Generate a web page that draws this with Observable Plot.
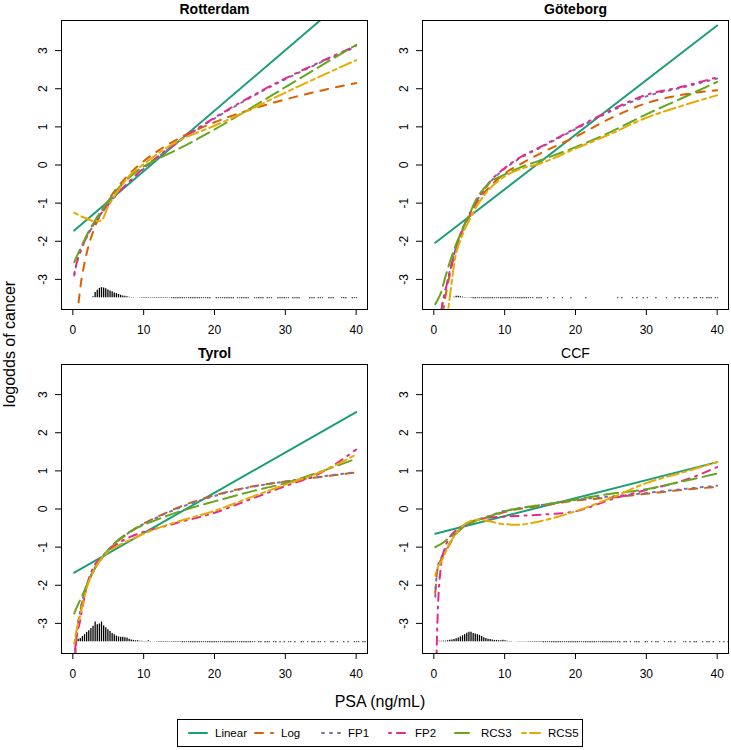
<!DOCTYPE html>
<html>
<head>
<meta charset="utf-8">
<script src="https://cdn.jsdelivr.net/npm/d3@7"></script>
<script src="https://cdn.jsdelivr.net/npm/@observablehq/plot@0.6"></script>
<style>
  html,body{margin:0;padding:0;background:#fff;}
  #root{position:relative;width:731px;height:750px;overflow:hidden;font-family:"Liberation Sans",Arial,sans-serif;color:#000;}
  .panel{position:absolute;}
  .panel svg{background:none !important;overflow:visible;}
  #ylab{position:absolute;left:-90.5px;top:333.5px;width:200px;height:20px;line-height:20px;font-size:16px;text-align:center;transform:rotate(-90deg);}
  #xlab{position:absolute;left:280px;top:691.7px;width:200px;height:20px;line-height:20px;font-size:16px;text-align:center;}
  #legend{position:absolute;left:177px;top:719px;width:406px;height:28px;border:1px solid #000;box-sizing:border-box;}
  .item{position:absolute;top:0;height:26px;display:flex;align-items:center;font-size:11.5px;white-space:nowrap;}
  .item svg{margin-right:7px;display:block;}
</style>
</head>
<body>
<div id="root">
  <div id="ylab">logodds of cancer</div>
  <div id="xlab">PSA (ng/mL)</div>
  <div id="legend"></div>
</div>
<script>
// ---------- data ----------
const psa = [0.2, 0.5, 1, 1.5, 2, 3, 4, 5, 6, 8, 10, 12, 15, 20, 25, 30, 35, 40];
const linearPsa = [0.2, 40];
const xTicks = [0, 10, 20, 30, 40];
const yTicks = [-3, -2, -1, 0, 1, 2, 3];
const models = ["Linear", "Log", "FP1", "FP2", "RCS3", "RCS5"];
const colors = ["#1B9E77", "#D95F02", "#7570B3", "#E7298A", "#66A61E", "#E6AB02"];
const dashes = ["none", "8,8", "2,6", "2,6,8,6", "14,6", "4,4,12,4"];
const panelTitles = ["Rotterdam", "Göteborg", "Tyrol", "CCF"];
const binWidth = 0.3;      // PSA width of each spike bin
const spikeBase = -3.5;    // logodds level the spikes stand on

// Rotterdam
const rotLinear = [-1.72, 4.6];
const rotLog  = [-5.7, -4.34, -3.31, -2.71, -2.28, -1.68, -1.26, -0.93, -0.66, -0.23, 0.10, 0.37, 0.70, 1.12, 1.45, 1.72, 1.95, 2.15];
const rotFP1  = [-2.9, -2.62, -2.3, -2.07, -1.88, -1.55, -1.28, -1.04, -0.82, -0.44, -0.1, 0.2, 0.62, 1.22, 1.76, 2.25, 2.69, 3.1];
const rotFP2  = [-2.86, -2.6, -2.3, -2.06, -1.87, -1.54, -1.27, -1.03, -0.81, -0.43, -0.08, 0.22, 0.63, 1.24, 1.78, 2.27, 2.71, 3.13];
const rotRCS3 = [-2.55, -2.42, -2.22, -2.02, -1.83, -1.5, -1.2, -0.94, -0.7, -0.32, -0.04, 0.16, 0.43, 0.93, 1.48, 2.04, 2.6, 3.15];
const rotRCS5 = [-1.25, -1.28, -1.33, -1.37, -1.41, -1.47, -1.46, -1.08, -0.78, -0.28, 0.02, 0.3, 0.64, 1.03, 1.45, 1.9, 2.33, 2.75];
const rotSpikes = [0,0,0,0,0,0,0,0,0,
  6,17,23,28,30,29,27,24,21,19,16,14,12,10,8,7,6,5,4,4,3,3,3,2,
  2,2,2,2,2,2,2,2,2,2,2,2,2,
  1,1,1,1,1,1,1,1,1,1,1,1,1,1,1,1,1,1,1,
  0,0, 1,1,1,1,1,1,1,1,1, 0, 1,1,1,1,1,1, 0,0, 1,1,1,1,1, 0, 1,1,1, 0,0,
  1,1,1,1,1,1, 0, 1,1,1,1, 0,0,0,0, 1,1,1, 0, 1,1,1, 0,0, 1,1,1, 0,0,0, 1,1,1, 0,0, 1,1,1];

// Göteborg
const gotLinear = [-2.04, 3.66];
const gotLog  = [-6.0, -5.0, -4.3, -3.6, -3.1, -2.3, -1.75, -1.35, -1.0, -0.55, -0.22, 0.0, 0.3, 0.74, 1.23, 1.62, 1.84, 1.96];
const gotFP1  = [-4.5, -4.2, -3.8, -3.38, -2.98, -2.24, -1.7, -1.31, -0.96, -0.44, -0.1, 0.16, 0.45, 0.94, 1.41, 1.8, 2.03, 2.27];
const gotFP2  = [-4.6, -4.3, -3.85, -3.4, -3.0, -2.25, -1.7, -1.3, -0.95, -0.42, -0.08, 0.18, 0.47, 0.96, 1.44, 1.84, 2.05, 2.3];
const gotRCS3 = [-3.65, -3.55, -3.35, -3.02, -2.7, -2.15, -1.7, -1.3, -0.9, -0.45, -0.25, -0.08, 0.12, 0.47, 0.87, 1.33, 1.75, 2.18];
const gotRCS5 = [-5.6, -5.3, -4.9, -4.3, -3.8, -2.45, -1.85, -1.45, -1.1, -0.6, -0.3, -0.12, 0.04, 0.43, 0.82, 1.24, 1.55, 1.83];
const gotSpikes = [0,0,0,0,0,0,0,0,0,
  5,7,7,6,5,4,3,3,2,
  1,1,1,1,1,1,1,1,1,1,1,1,1,1,1,1,1,1,1,1,1,1,1,1,1,1,1,1,
  1,0,1,1,1,0,0,1,0,0,1,0,0,0,1,0,0,0,1,
  0,0,0,0,0,0,1,0,0,0,0,0,0,0,0,0,0,0,0,0,0,
  1,0,1,0,0,0,0,1,0,1,0,0,1,0,1,0,0,0,1,0,0,0,0,1,0,0,0,1,0,1,0,1,0,1,0,0,1,1,0,1,1,0,1,1,1,0,1,1];

// Tyrol
const tyrLinear = [-1.67, 2.54];
const tyrLog  = [-4.3, -3.4, -2.75, -2.3, -2.0, -1.6, -1.3, -1.08, -0.9, -0.62, -0.38, -0.2, 0.05, 0.36, 0.58, 0.72, 0.84, 0.96];
const tyrFP1  = [-4.2, -3.35, -2.72, -2.28, -1.98, -1.58, -1.29, -1.07, -0.89, -0.61, -0.39, -0.21, 0.03, 0.34, 0.57, 0.72, 0.85, 0.97];
const tyrFP2  = [-3.9, -3.4, -2.95, -2.45, -2.0, -1.5, -1.28, -1.1, -0.95, -0.74, -0.6, -0.5, -0.35, -0.1, 0.25, 0.6, 0.95, 1.56];
const tyrRCS3 = [-2.74, -2.6, -2.4, -2.2, -1.98, -1.6, -1.32, -1.08, -0.88, -0.6, -0.42, -0.27, -0.07, 0.2, 0.45, 0.68, 0.98, 1.32];
const tyrRCS5 = [-3.53, -3.2, -2.82, -2.42, -2.05, -1.6, -1.3, -1.12, -1.0, -0.82, -0.65, -0.5, -0.32, -0.05, 0.3, 0.64, 0.97, 1.43];
const tyrSpikes = [0,4,10,12,17,22,28,32,38,44,55,48,50,55,45,40,35,30,25,22,18,16,15,15,14,13,10,8,7,6,6,5,5,4,4,6,4,3,3,3,
  2,2,2,2,2,2,2,2,2,2,2,
  1,1,1,1,1,1,1,1,1,1,1,1,1,1,1,1,1,1,1,1,1,1,1,1,1,1,1,1,1,1,1,1,1,1,1,
  0,1,1,0,1,1,1,0,1,1, 0,1,0,1,0,1,1,0,1,0, 0,1,1,0,1,0,1,1,0,1, 1,0,1,0,0,1,1,0,1,0, 0,1,0,1,0,0,1,1,1,0, 1,1,0];

// CCF
const ccfLinear = [-0.65, 1.23];
const ccfLog  = [-2.2, -1.6, -1.33, -1.15, -1.0, -0.68, -0.5, -0.38, -0.3, -0.2, -0.08, 0.0, 0.08, 0.22, 0.3, 0.4, 0.5, 0.58];
const ccfFP1  = [-2.3, -1.55, -1.3, -1.12, -0.97, -0.67, -0.5, -0.38, -0.3, -0.17, -0.05, 0.02, 0.1, 0.24, 0.33, 0.42, 0.52, 0.61];
const ccfFP2  = [-5.5, -3.0, -1.5, -1.05, -0.82, -0.58, -0.45, -0.35, -0.29, -0.22, -0.2, -0.18, -0.15, -0.06, 0.25, 0.5, 0.73, 1.1];
const ccfRCS3 = [-1.0, -0.97, -0.92, -0.86, -0.78, -0.65, -0.5, -0.38, -0.3, -0.18, -0.06, 0.02, 0.1, 0.25, 0.4, 0.52, 0.72, 0.93];
const ccfRCS5 = [-1.75, -1.55, -1.4, -1.2, -0.98, -0.68, -0.45, -0.33, -0.28, -0.33, -0.4, -0.41, -0.32, -0.06, 0.29, 0.68, 0.95, 1.23];
const ccfSpikes = [0,5,5,5,5,5,6,7,8,9,11,13,16,19,22,26,28,28,25,24,22,20,17,14,12,10,9,8,7,7,6,6,7,6,5,4,4,
  3,3,3,3,3,3,3, 2,2,2,2,2,2,2,
  1,1,1,1,1,1,1,1,1,1,1,1,1,1,1,1,1,1,1,1,1,1,1,1,1,1,1,1,1,1,1,1,1,1,1,
  1,1,0,1,1,0,1,0,1,1, 1,0,0,1,1,0,1,0,1,1, 0,0,1,0,1,1,0,1,0,0, 0,1,1,0,1,0,1,1,0,0, 1,0,1,1,0,1,0,0,1,0, 1,0,1];

// ---------- drawing ----------
const FONT = "'Liberation Sans', Arial, sans-serif";

function drawPanel(title, linear, curves, spikes, boldTitle) {
  const spikeData = spikes.map((h, i) => ({psa: binWidth * (i + 0.5), h: h / 100})).filter(d => d.h > 0);
  const series = [linearPsa.map((x, i) => ({psa: x, y: linear[i]}))]
    .concat(curves.map(c => psa.map((x, i) => ({psa: x, y: c[i]}))));
  const marks = [];
  marks.push(Plot.ruleX(spikeData, {
    x: "psa", y1: () => spikeBase, y2: d => spikeBase + d.h,
    stroke: "#000", strokeWidth: 1.3, insetTop: -0.6, insetBottom: -0.6, clip: true
  }));
  series.forEach((rows, k) => marks.push(Plot.line(rows, {
    x: "psa", y: "y", stroke: colors[k], strokeWidth: 2,
    strokeDasharray: dashes[k], curve: "monotone-x", clip: true
  })));
  marks.push(Plot.frame({stroke: "#000", strokeWidth: 1}));
  marks.push(Plot.axisX({ticks: xTicks, tickSize: 6, tickPadding: 10, fontSize: 12, label: null}));
  marks.push(Plot.axisY({ticks: yTicks, tickSize: 6, tickFormat: () => "", label: null}));
  marks.push(Plot.text(yTicks, {
    y: d => d, frameAnchor: "left", text: d => String(d), rotate: -90,
    dx: -15, lineAnchor: "bottom", textAnchor: "middle", fontSize: 12
  }));
  marks.push(Plot.text([title], {
    text: d => d, frameAnchor: "top", dy: -6.5, lineAnchor: "bottom",
    fontWeight: boldTitle ? "bold" : "normal", fontSize: 14
  }));
  return Plot.plot({
    width: 369, height: 341,
    marginLeft: 61, marginRight: 2, marginTop: 20, marginBottom: 32,
    x: {domain: [-1.6, 41.6]},
    y: {domain: [-3.79, 3.79]},
    style: {fontFamily: FONT, fontSize: "12px", background: "none", overflow: "visible", color: "#000"},
    marks
  });
}

const root = document.getElementById("root");
const layout = [
  {left: 0,   top: 0,   el: drawPanel(panelTitles[0], rotLinear, [rotLog, rotFP1, rotFP2, rotRCS3, rotRCS5], rotSpikes, true)},
  {left: 361, top: 0,   el: drawPanel(panelTitles[1], gotLinear, [gotLog, gotFP1, gotFP2, gotRCS3, gotRCS5], gotSpikes, true)},
  {left: 0,   top: 344, el: drawPanel(panelTitles[2], tyrLinear, [tyrLog, tyrFP1, tyrFP2, tyrRCS3, tyrRCS5], tyrSpikes, true)},
  {left: 361, top: 344, el: drawPanel(panelTitles[3], ccfLinear, [ccfLog, ccfFP1, ccfFP2, ccfRCS3, ccfRCS5], ccfSpikes, false)}
];
layout.forEach(p => {
  const div = document.createElement("div");
  div.className = "panel";
  div.style.left = p.left + "px";
  div.style.top = p.top + "px";
  div.appendChild(p.el);
  root.insertBefore(div, root.firstChild);
});

// legend
const legend = document.getElementById("legend");
const legendStarts = [10, 76, 143, 210, 276, 343];
models.forEach((m, k) => {
  const item = document.createElement("div");
  item.className = "item";
  item.style.left = legendStarts[k] + "px";
  const ns = "http://www.w3.org/2000/svg";
  const svg = document.createElementNS(ns, "svg");
  svg.setAttribute("width", 20); svg.setAttribute("height", 6);
  const ln = document.createElementNS(ns, "line");
  ln.setAttribute("x1", 1); ln.setAttribute("x2", 19); ln.setAttribute("y1", 3); ln.setAttribute("y2", 3);
  ln.setAttribute("stroke", colors[k]); ln.setAttribute("stroke-width", 2);
  ln.setAttribute("stroke-linecap", "round");
  if (dashes[k] !== "none") ln.setAttribute("stroke-dasharray", dashes[k]);
  svg.appendChild(ln);
  item.appendChild(svg);
  const span = document.createElement("span");
  span.textContent = m;
  item.appendChild(span);
  legend.appendChild(item);
});
</script>
</body>
</html>
